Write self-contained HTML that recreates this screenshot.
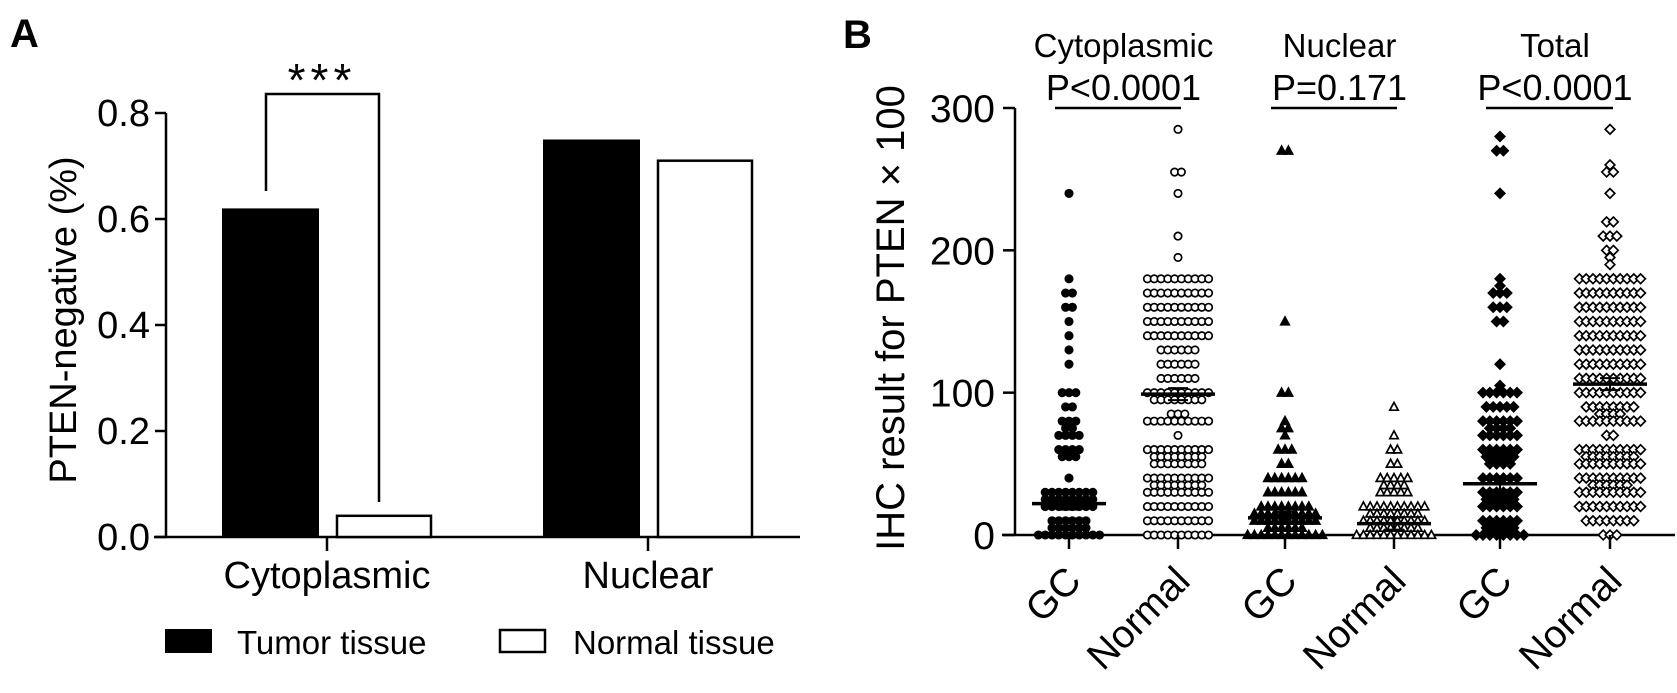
<!DOCTYPE html>
<html><head><meta charset="utf-8">
<style>
html,body{margin:0;padding:0;background:#fff;}
svg{display:block;font-family:"Liberation Sans",Arial,sans-serif;}
</style></head>
<body>
<svg id="fig" width="1677" height="693" viewBox="0 0 1677 693"></svg>
<script>
// ---------- Panel A data ----------
const aCategories = ["Cytoplasmic", "Nuclear"];
const aTumor = [0.62, 0.75];
const aNormal = [0.04, 0.71];
const aTicks = [0.0, 0.2, 0.4, 0.6, 0.8];
const aTickLabels = ["0.0", "0.2", "0.4", "0.6", "0.8"];

// ---------- Panel B data (value levels and counts per group) ----------
const bGroups = ["GC", "Normal", "GC", "Normal", "GC", "Normal"];
const bTicks = [0, 100, 200, 300];
const bTickLabels = ["0", "100", "200", "300"];
const bMeans = [22, 99, 12, 8, 36, 106];
const cytoGcVals = [240,180,170,160,150,140,130,120,100,90,80,75,70,60,55,40,30,25,20,10,5,0];
const cytoGcCnts = [1,1,2,2,1,1,1,1,3,2,3,2,4,4,3,1,8,8,8,6,6,10];
const cytoNVals = [285,255,240,210,195,180,170,160,150,140,130,120,110,100,95,85,80,70,60,55,50,40,35,30,20,10,0];
const cytoNCnts = [1,2,1,1,1,10,10,10,10,10,6,6,6,10,8,3,10,1,10,8,8,10,8,10,10,10,10];
const nucGcVals = [270,150,100,80,75,70,60,50,40,30,20,15,10,5,0];
const nucGcCnts = [2,1,2,1,2,1,3,2,6,6,8,10,10,6,12];
const nucNVals = [90,70,60,50,40,35,30,20,15,10,5,0];
const nucNCnts = [1,1,2,2,5,4,5,10,8,10,8,12];
const totGcVals = [280,270,240,180,175,170,160,150,120,105,100,90,80,75,70,60,55,50,40,30,25,20,10,5,0];
const totGcCnts = [1,2,1,1,1,3,3,2,1,1,6,5,6,4,6,6,5,4,6,6,5,6,6,5,8];
const totNVals = [285,260,255,240,220,210,200,195,190,180,170,160,150,140,130,120,110,100,90,85,80,70,60,55,50,40,35,30,20,10,0];
const totNCnts = [1,1,2,1,2,3,2,1,1,10,10,10,10,10,10,10,10,10,8,4,10,2,10,8,10,10,6,10,10,8,3];

const NS = "http://www.w3.org/2000/svg";
const svg = document.getElementById("fig");
function mk(tag, attrs, parent) {
  const e = document.createElementNS(NS, tag);
  for (const k in attrs) e.setAttribute(k, attrs[k]);
  (parent || svg).appendChild(e);
  return e;
}
function txt(str, attrs, parent) { const t = mk("text", attrs, parent); t.textContent = str; return t; }

// ===== Panel A =====
const gA = mk("g", {});


const aY0 = 537, aPxPerUnit = 530, aAxisX = 166;
const ayScale = v => aY0 - v * aPxPerUnit;
const aCenters = [327, 648];
const lblA = txt("A", {x: 10, y: 47, "font-size": 40, "font-weight": "bold"}, gA);


const aYAxis = mk("line", {x1: aAxisX, y1: ayScale(0.8), x2: aAxisX, y2: aY0, stroke: "#000", "stroke-width": 2.5}, gA);


const aXAxis = mk("line", {x1: 154, y1: aY0, x2: 800, y2: aY0, stroke: "#000", "stroke-width": 2.5}, gA);


aTicks.forEach((t, i) => {
  const y = ayScale(t);
  const tk = mk("line", {x1: aAxisX - 11, y1: y, x2: aAxisX, y2: y, stroke: "#000", "stroke-width": 2.5}, gA);
  
  
  const tl = txt(aTickLabels[i], {x: 150, y: y + 13, "font-size": 38, "text-anchor": "end"}, gA);
  
  
});
const aTitle = txt("PTEN-negative (%)", {x: 0, y: 0, "font-size": 38, "text-anchor": "middle", transform: "translate(76,320) rotate(-90)"}, gA);


aCategories.forEach((c, i) => {
  const cx = aCenters[i];
  const tb = mk("rect", {x: cx - 105, y: ayScale(aTumor[i]), width: 97, height: aY0 - ayScale(aTumor[i]), fill: "#000"}, gA);
  
  
  const nb = mk("rect", {x: cx + 10, y: ayScale(aNormal[i]), width: 94, height: aY0 - ayScale(aNormal[i]), fill: "#fff", stroke: "#000", "stroke-width": 2.5}, gA);
  
  
  const tk = mk("line", {x1: cx, y1: aY0, x2: cx, y2: aY0 + 14, stroke: "#000", "stroke-width": 2.5}, gA);
  
  
  const cl = txt(c, {x: cx, y: 588, "font-size": 38, "text-anchor": "middle"}, gA);
  
  
});
const br = mk("path", {d: "M266 191 V94 H379 V502", fill: "none", stroke: "#000", "stroke-width": 2.5}, gA);


const st = txt("***", {x: 322, y: 96, "font-size": 46, "text-anchor": "middle", "letter-spacing": 5}, gA);


const lg1 = mk("rect", {x: 165, y: 629, width: 47, height: 24, fill: "#000"}, gA);


const lt1 = txt("Tumor tissue", {x: 237, y: 654, "font-size": 33}, gA);


const lg2 = mk("rect", {x: 500, y: 630, width: 45, height: 22, fill: "#fff", stroke: "#000", "stroke-width": 2.5}, gA);


const lt2 = txt("Normal tissue", {x: 573, y: 654, "font-size": 33}, gA);



// ===== Panel B =====
const gB = mk("g", {});


const bY0 = 535, bY300 = 108, bAxisX = 1015;
const byScale = v => bY0 - v * (bY0 - bY300) / 300;
const bCenters = [1069, 1178, 1285, 1394, 1500, 1610];
const lblB = txt("B", {x: 843, y: 48, "font-size": 40, "font-weight": "bold"}, gB);


const bYAxis = mk("line", {x1: bAxisX, y1: bY300, x2: bAxisX, y2: bY0, stroke: "#000", "stroke-width": 2.5}, gB);


const bXAxis = mk("line", {x1: 1002, y1: bY0, x2: 1675, y2: bY0, stroke: "#000", "stroke-width": 2.5}, gB);


bTicks.forEach((t, i) => {
  const y = byScale(t);
  const tk = mk("line", {x1: bAxisX - 12, y1: y, x2: bAxisX, y2: y, stroke: "#000", "stroke-width": 2.5}, gB);
  
  
  const tl = txt(bTickLabels[i], {x: 995, y: y + 14, "font-size": 39, "text-anchor": "end"}, gB);
  
  
});
const bTitle = txt("IHC result for PTEN \u00d7 100", {x: 0, y: 0, "font-size": 40, "text-anchor": "middle", transform: "translate(904,318) rotate(-90)"}, gB);



const headers = ["Cytoplasmic", "Nuclear", "Total"];
const pvals = ["P<0.0001", "P=0.171", "P<0.0001"];
headers.forEach((h, k) => {
  const x1 = bCenters[2 * k] - 14, x2 = bCenters[2 * k + 1] + 3;
  const mid = (bCenters[2 * k] + bCenters[2 * k + 1]) / 2;
  const ht = txt(h, {x: mid, y: 57, "font-size": 33, "text-anchor": "middle"}, gB);
  
  
  const pt = txt(pvals[k], {x: mid, y: 100, "font-size": 36, "text-anchor": "middle"}, gB);
  
  
  const pl = mk("line", {x1: x1, y1: 108, x2: x2, y2: 108, stroke: "#000", "stroke-width": 2.5}, gB);
  
  
});

const groupVals = [cytoGcVals, cytoNVals, nucGcVals, nucNVals, totGcVals, totNVals];
const groupCnts = [cytoGcCnts, cytoNCnts, nucGcCnts, nucNCnts, totGcCnts, totNCnts];
const shapes = ["circle", "circle", "tri", "tri", "diamond", "diamond"];
const filled = [true, false, true, false, true, false];
const spacing = 6.8;
function marker(shape, fill, x, y, parent) {
  let e;
  const f = fill ? "#000" : "#fff";
  if (shape === "circle") e = mk("circle", {cx: x, cy: y, r: 3.7, fill: f, stroke: "#000", "stroke-width": 1.7}, parent);
  else if (shape === "tri") e = mk("polygon", {points: `${x},${y-4.5} ${x+4.2},${y+3.3} ${x-4.2},${y+3.3}`, fill: f, stroke: "#000", "stroke-width": 1.7}, parent);
  else e = mk("polygon", {points: `${x},${y-4.8} ${x+4.8},${y} ${x},${y+4.8} ${x-4.8},${y}`, fill: f, stroke: "#000", "stroke-width": 1.7}, parent);
  return e;
}
bGroups.forEach((g, gi) => {
  const cx = bCenters[gi];
  const gg = mk("g", {}, gB);
  
  
  groupVals[gi].forEach((v, j) => {
    const n = groupCnts[gi][j];
    for (let k = 0; k < n; k++) {
      const off = (k - (n - 1) / 2) * spacing;
      const m = marker(shapes[gi], filled[gi], cx + off, byScale(v), gg);
      
      
    }
  });
  const my = byScale(bMeans[gi]);
  const ml = mk("line", {x1: cx - 37, y1: my, x2: cx + 37, y2: my, stroke: "#000", "stroke-width": 3.5}, gB);
  
  
  const eb = mk("path", {d: `M${cx-10} ${my-6} H${cx+10} M${cx} ${my-6} V${my+6} M${cx-10} ${my+6} H${cx+10}`, stroke: "#000", "stroke-width": 2, fill: "none"}, gB);
  
  
  const tk = mk("line", {x1: cx, y1: bY0, x2: cx, y2: bY0 + 14, stroke: "#000", "stroke-width": 2.5}, gB);
  
  
  const lb = txt(g, {x: 0, y: 0, "font-size": 39, "text-anchor": "end", transform: `translate(${cx + 14},${bY0 + 48}) rotate(-45)`}, gB);
  
  
});
</script>
</body></html>
